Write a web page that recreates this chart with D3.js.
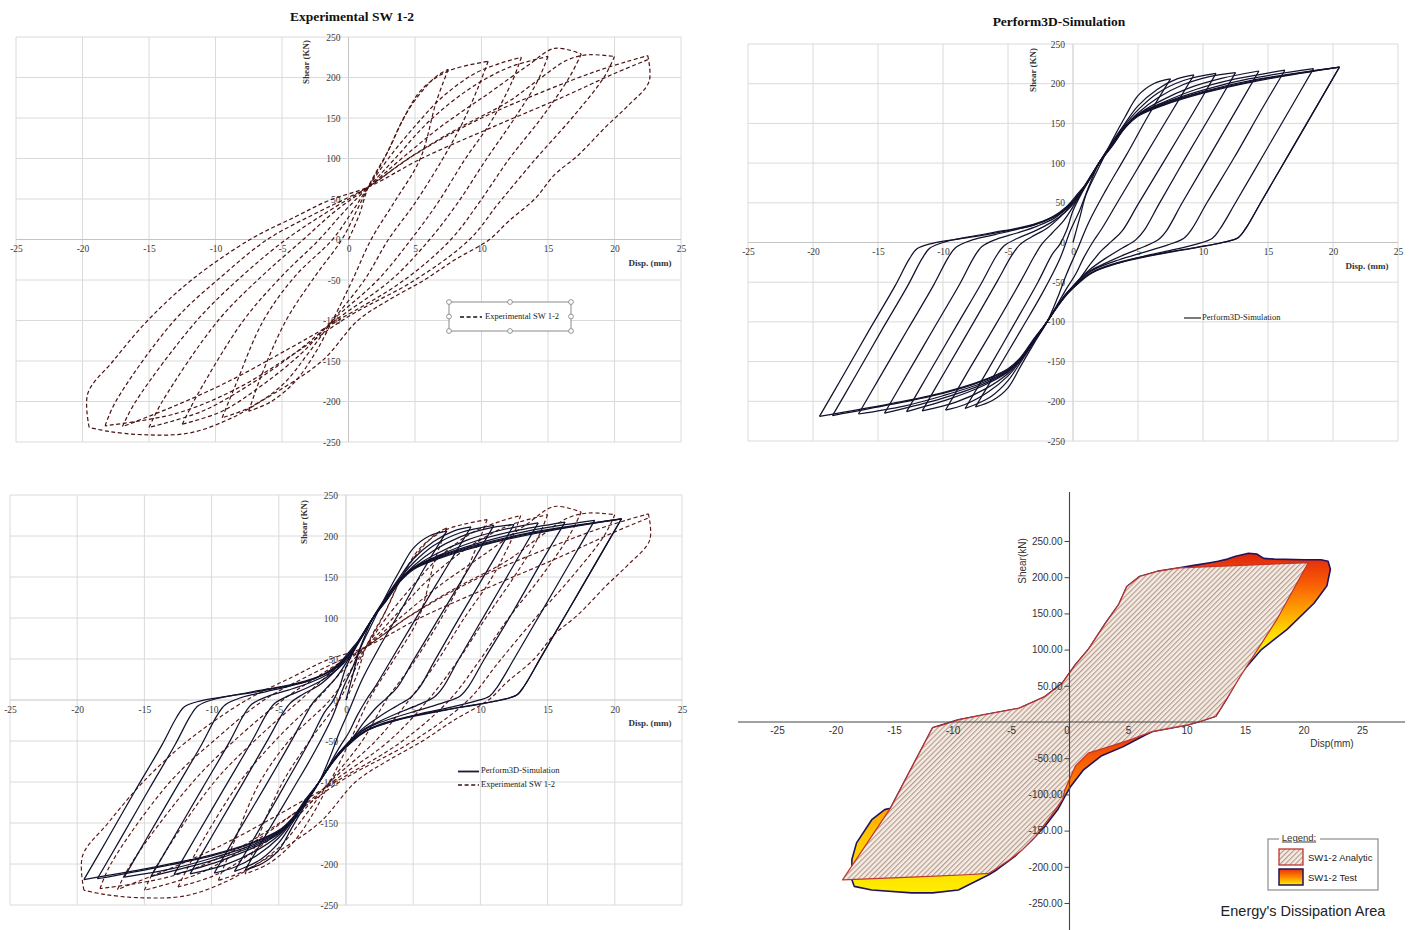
<!DOCTYPE html>
<html>
<head>
<meta charset="utf-8">
<script src="https://cdn.jsdelivr.net/npm/d3@7"></script>
<style>
  body { margin: 0; background: #fff; }
  svg { display: block; }
</style>
</head>
<body>
<svg id="chart" width="1418" height="930"></svg>
<script>
// ---------- axis ticks ----------
const dispTicks = [-25, -20, -15, -10, -5, 0, 5, 10, 15, 20, 25];
const shearTicks = [-250, -200, -150, -100, -50, 0, 50, 100, 150, 200, 250];
const shearTicksFmt = [250, 200, 150, 100, 50, -50, -100, -150, -200, -250];

// ---------- Perform3D simulation: loading / unloading branches (disp mm, shear kN) ----------
const simBranches = [
  [[0,0],[0.5,30],[1,60],[2,95],[3,128],[4,158],[5,185],[6.2,200],[7.5,206]],
  [[7.5,206],[5.8,160],[4.1,110],[2.5,65],[1.2,25],[0.3,-10],[-0.5,-40],[-1.2,-70],[-2,-100],[-3,-127],[-4,-155],[-5,-183],[-6.2,-199],[-7.5,-207]],
  [[-7.5,-207],[-5.8,-160],[-4,-110],[-2.4,-65],[-1,-20],[-0.2,15],[0.5,40],[1.2,70],[2,100],[3,126],[4,150],[5,172],[6.5,193],[8,206],[9.3,211]],
  [[9.3,211],[7.6,165],[5.4,105],[3.4,50],[2.2,17],[1.5,0],[0.8,-20],[0.2,-40],[-0.5,-58],[-1.2,-78],[-2,-100],[-3,-125],[-4,-150],[-5,-174],[-6.3,-194],[-7.5,-204],[-8.3,-209]],
  [[-8.3,-209],[-6.6,-162],[-4.6,-105],[-2.7,-50],[-1.6,-15],[-1,-2],[-0.5,15],[0,40],[0.6,60],[1.3,80],[2,100],[3,125],[4,148],[5,167],[6.5,188],[8.5,204],[11,213]],
  [[11,213],[9.3,165],[7.1,105],[5,48],[3.8,15],[3,2],[2.2,-10],[1.3,-28],[0.5,-46],[-0.4,-62],[-1.2,-80],[-2,-100],[-3,-124],[-4,-148],[-5,-168],[-6.5,-188],[-8.3,-204],[-9.8,-211]],
  [[-9.8,-211],[-8.1,-163],[-6,-105],[-4,-48],[-3,-18],[-2.4,-2],[-1.6,12],[-0.7,28],[0,45],[0.6,62],[1.3,82],[2,100],[3,124],[4,146],[5,163],[6.5,182],[8.5,199],[10.5,209],[12.5,214]],
  [[12.5,214],[10.8,166],[8.6,105],[6.6,48],[5.5,16],[4.8,3],[3.8,-7],[2.5,-20],[1.3,-34],[0.5,-46],[-0.4,-63],[-1.2,-80],[-2,-100],[-3,-124],[-4,-147],[-5,-165],[-6.7,-184],[-9,-201],[-11.6,-212]],
  [[-11.6,-212],[-9.9,-164],[-7.8,-105],[-5.8,-48],[-4.7,-16],[-4.1,-3],[-3.2,7],[-2,18],[-1,32],[-0.2,46],[0.6,64],[1.3,82],[2,100],[3,123],[4,145],[5,161],[6.7,178],[9,195],[11.5,207],[14.3,216]],
  [[14.3,216],[12.6,168],[10.4,106],[8.4,50],[7.2,15],[6.6,4],[5.5,-5],[4,-15],[2.5,-26],[1.3,-36],[0.5,-48],[-0.4,-64],[-1.2,-81],[-2,-100],[-3,-124],[-4,-147],[-5,-163],[-7,-181],[-9.5,-197],[-12.8,-213]],
  [[-12.8,-213],[-11.1,-165],[-9,-106],[-7,-50],[-5.9,-17],[-5.3,-4],[-4.3,5],[-3,14],[-1.7,25],[-0.6,38],[0.2,52],[1.2,78],[2,100],[3,123],[4,146],[5,161],[7,177],[9.5,193],[12.5,206],[16.3,217]],
  [[16.3,217],[14.6,170],[12.4,107],[10.3,50],[9.1,16],[8.5,5],[7.3,-3],[5.5,-12],[3.5,-22],[2,-31],[1,-40],[0.2,-53],[-0.6,-66],[-1.2,-80],[-2,-100],[-3,-123],[-4,-146],[-5,-162],[-7,-179],[-10,-196],[-14.5,-215]],
  [[-14.5,-215],[-12.8,-167],[-10.7,-108],[-8.7,-52],[-7.6,-18],[-7,-5],[-5.9,4],[-4.3,12],[-2.7,21],[-1.4,31],[-0.4,44],[0.4,58],[1.2,78],[2,100],[3,123],[4,146],[5,161],[7,176],[10,192],[13.5,206],[18.5,219]],
  [[18.5,219],[16.8,171],[14.6,109],[12.5,50],[11.3,17],[10.7,5],[9.5,-2],[7.5,-10],[5.5,-17],[3.5,-26],[2,-34],[1,-42],[0.2,-54],[-0.6,-66],[-1.2,-80],[-2,-100],[-3,-123],[-4,-146],[-5,-161],[-7,-177],[-10,-193],[-13,-206],[-16.5,-216]],
  [[-16.5,-216],[-14.8,-168],[-12.7,-109],[-10.7,-53],[-9.6,-19],[-9,-6],[-7.8,3],[-6,10],[-4.2,17],[-2.5,25],[-1.2,35],[-0.3,47],[0.5,62],[1.2,78],[2,100],[3,122],[4,145],[5,160],[7,175],[10,190],[14,205],[20.5,221]],
  [[20.5,221],[18.8,173],[16.6,111],[14.5,52],[13.3,18],[12.7,6],[11.5,0],[9.5,-6],[7,-13],[4.5,-21],[2.5,-30],[1.2,-40],[0.3,-53],[-0.6,-67],[-1.2,-80],[-2,-100],[-3,-122],[-4,-145],[-5,-160],[-7,-175],[-10,-190],[-14,-204],[-18.5,-218]],
  [[-18.5,-218],[-16.8,-170],[-14.7,-110],[-12.7,-54],[-11.6,-20],[-11,-7],[-9.8,1],[-8,7],[-6,13],[-4,19],[-2.3,27],[-1,37],[-0.1,50],[0.6,64],[1.2,78],[2,100],[3,122],[4,145],[5,160],[7,174],[10,189],[14,204],[20.5,221]],
  [[20.5,221],[18.8,173],[16.6,111],[14.5,52],[13.3,18],[12.7,6],[11.8,1],[10,-5],[7.5,-12],[5,-20],[3,-28],[1.5,-38],[0.5,-50],[-0.4,-64],[-1.2,-80],[-2,-100],[-3,-121],[-4,-144],[-5,-159],[-7,-174],[-10,-189],[-14,-203],[-19.5,-219]],
  [[-19.5,-219],[-17.8,-171],[-15.7,-111],[-13.7,-55],[-12.6,-21],[-12,-8],[-10.8,-1],[-9,4],[-7,9],[-5,15],[-3,22],[-1.6,32],[-0.5,45],[0.4,62],[1.2,78],[2,100],[3,121],[4,144],[5,159],[7,173],[10,188],[14,203],[20.5,221]]
];

// ---------- Experimental SW 1-2: loading / unloading branches ----------
const expBranches = [
  [[0,0],[0.8,30],[1.5,65],[3,110],[4.5,160],[6.5,200],[7.5,210]],
  [[7.5,210],[6.6,170],[5.4,100],[3.4,45],[1.7,0],[0.3,-50],[-1.2,-100],[-2.5,-140],[-4,-175],[-5.8,-200],[-7.5,-212]],
  [[-7.5,-212],[-6.6,-170],[-4.7,-100],[-2.5,-45],[-0.5,0],[0.6,35],[1.5,65],[2.7,100],[4,145],[5.5,185],[7.5,208],[10.5,220]],
  [[10.5,220],[9.8,190],[8.6,145],[7.1,100],[5,45],[3,0],[1.2,-50],[-1.2,-100],[-3,-140],[-5,-180],[-7.5,-208],[-9.5,-220]],
  [[-9.5,-220],[-8.5,-180],[-6.4,-100],[-4,-45],[-1.2,0],[0.3,35],[1.5,65],[3,100],[5,140],[7,175],[9.5,205],[11.5,218],[13,225]],
  [[13,225],[12.3,195],[10.7,145],[8.8,100],[6.7,45],[4.7,0],[2.2,-50],[-1.2,-100],[-3.5,-140],[-6.5,-180],[-9.5,-212],[-12.5,-228]],
  [[-12.5,-228],[-11.3,-190],[-7.9,-100],[-5,-45],[-2.2,0],[-0.3,35],[1.5,65],[3.5,100],[6,145],[9,185],[12,212],[15,226]],
  [[15,226],[14.2,195],[12.5,150],[10.4,100],[8.2,45],[6.1,0],[3.2,-50],[-1,-100],[-4,-140],[-7.5,-180],[-11,-212],[-15,-232]],
  [[-15,-232],[-14,-200],[-9.8,-100],[-6.5,-45],[-3.4,0],[-1,35],[1.5,65],[4,100],[7,140],[10.5,180],[13.5,215],[15.5,236],[17.5,229]],
  [[17.5,229],[16.6,200],[14.5,150],[12.1,100],[9.8,45],[7.7,0],[4.2,-50],[-0.8,-100],[-4.5,-135],[-9,-175],[-13,-205],[-17,-231]],
  [[-17,-231],[-16,-200],[-11.4,-100],[-8,-45],[-4.7,0],[-1.5,35],[1.5,65],[4.5,100],[8,135],[12,170],[14.5,200],[16.5,222],[18,228],[20,226]],
  [[20,226],[19.2,200],[16.8,150],[14.1,100],[11.3,45],[9.1,0],[5,-50],[0,-95],[-4,-140],[-8.5,-185],[-13,-215],[-18.3,-230]],
  [[-18.3,-230],[-17.5,-200],[-13.1,-100],[-9.5,-45],[-6.1,0],[-2.5,32],[0,52],[1.5,65],[5,105],[10,150],[15,185],[18.5,207],[21,220],[22.5,227]],
  [[22.5,227],[22.6,195],[21,165],[19.4,140],[17.2,103],[15.5,80],[14,50],[12,22],[10.6,0],[8,-25],[5.7,-50],[3,-75],[0.7,-100],[-2,-150],[-6.6,-200],[-9,-222],[-12,-239],[-15.5,-241],[-18,-237],[-19.5,-232]],
  [[-19.5,-232],[-19.6,-190],[-17.7,-150],[-15.1,-100],[-11.8,-50],[-7.4,0],[-4,28],[-1.5,48],[1.5,65],[5.5,100],[11,140],[16,175],[20,205],[22.5,222]]
];

// ---------- energy dissipation outlines ----------
const analyticLoop = [[-19.4,-218],[-15.3,-119],[-11.7,-8],[-11,-5],[-9.5,3],[-7.3,10],[-4.3,19],[-2.1,35],[-0.6,54],[0.5,79],[1.6,100],[3.1,137],[4.2,162],[4.9,187],[6,201],[7.5,208],[9.4,213],[20.4,220],[17.7,141],[14.6,63],[13.4,31],[12.5,8],[11.2,1],[10.1,-4],[7.1,-13],[5.3,-24],[3.4,-34],[1.6,-43],[0.5,-61],[-0.4,-94],[-0.6,-107],[-1.6,-130],[-2.9,-158],[-4,-176],[-5.1,-190],[-6.2,-202],[-6.9,-209],[-8.8,-211],[-13,-214]];
const testLoop = [[-15.3,-119],[-11.7,-8],[-9.5,3],[-7.3,10],[-4.3,19],[-2.1,35],[-0.6,54],[0.5,79],[1.6,100],[3.1,137],[4.2,162],[4.9,187],[6,201],[7.5,208],[9.4,213],[10.5,216],[12,220],[12.7,222],[13.5,225],[14.2,229],[15.3,233],[16,232],[16.6,226],[17.5,225],[20.1,224],[21.5,224],[22.1,222],[22.3,211],[22,188],[20.9,164],[18.6,128],[16.4,100],[14.7,68],[13.4,31],[12.5,8],[11.2,1],[10.1,-4],[7.1,-13],[6.6,-17],[4.6,-34],[2.7,-47],[1.2,-66],[0.1,-89],[-0.4,-103],[-1,-121],[-2.1,-144],[-3.2,-163],[-4.7,-186],[-6.2,-204],[-6.9,-211],[-9.5,-232],[-11.7,-236],[-13.5,-236],[-16.9,-232],[-18.4,-227],[-18.6,-218],[-18.6,-190],[-18.2,-167],[-16.9,-135],[-15.8,-121]];

// ---------- drawing ----------
const svg = d3.select("#chart");
const defs = svg.append("defs");
const SERIF = "'Liberation Serif', 'DejaVu Serif', serif";
const SANS = "'Liberation Sans', Arial, sans-serif";

const SIM_COLOR = "#12122e";
const EXP_COLOR = "#4a1111";

// plain ASCII hyphen for negative tick values
const intFmt = d => String(d);
const fixFmt = d => d.toFixed(2);

function excelPanel(cfg) {
  const g = svg.append("g");
  const x = d3.scaleLinear().domain([-25, 25]).range([cfg.left, cfg.right]);
  const y = d3.scaleLinear().domain([-250, 250]).range([cfg.bottom, cfg.top]);

  // gridlines
  g.append("g").selectAll("line").data(dispTicks).join("line")
    .attr("x1", d => x(d)).attr("x2", d => x(d))
    .attr("y1", y(250)).attr("y2", y(-250))
    .attr("stroke", d => d === 0 ? "#c4c4c4" : "#dadada").attr("stroke-width", 1);
  g.append("g").selectAll("line").data(shearTicks).join("line")
    .attr("x1", x(-25)).attr("x2", x(25))
    .attr("y1", d => y(d)).attr("y2", d => y(d))
    .attr("stroke", d => d === 0 ? "#c4c4c4" : "#dadada").attr("stroke-width", 1);

  // tick labels through d3 axes
  const xAxis = g.append("g").attr("transform", `translate(0,${y(0)})`)
    .call(d3.axisBottom(x).tickValues(dispTicks).tickSize(0).tickPadding(6).tickFormat(intFmt));
  const yAxis = g.append("g").attr("transform", `translate(${x(0)},0)`)
    .call(d3.axisLeft(y).tickValues(shearTicks).tickSize(0).tickPadding(8).tickFormat(intFmt));
  [xAxis, yAxis].forEach(a => {
    a.select(".domain").remove();
    a.selectAll("text").attr("font-family", SERIF).attr("font-size", 9.5).attr("fill", "#3a3a3a");
  });

  if (cfg.title) {
    svg.append("text").attr("x", cfg.title.x).attr("y", cfg.title.y)
      .attr("text-anchor", "middle").attr("font-family", SERIF).attr("font-weight", "bold")
      .attr("font-size", 13.5).attr("fill", "#111").text(cfg.title.text);
  }
  svg.append("text")
    .attr("transform", `translate(${cfg.yLabel[0]},${cfg.yLabel[1]}) rotate(-90)`)
    .attr("text-anchor", "middle").attr("dominant-baseline", "middle")
    .attr("font-family", SERIF).attr("font-weight", "bold").attr("font-size", 9)
    .attr("fill", "#333").text("Shear (KN)");
  svg.append("text").attr("x", cfg.xLabel[0]).attr("y", cfg.xLabel[1])
    .attr("text-anchor", "middle").attr("dominant-baseline", "middle")
    .attr("font-family", SERIF).attr("font-weight", "bold").attr("font-size", 9)
    .attr("fill", "#333").text("Disp. (mm)");
  return { g, x, y };
}

function drawBranches(p, branches, style) {
  const line = d3.line().x(d => p.x(d[0])).y(d => p.y(d[1]))
    .curve(d3.curveCatmullRom.alpha(0.5));
  p.g.append("g").selectAll("path").data(branches).join("path")
    .attr("d", line).attr("fill", "none")
    .attr("stroke", style.color).attr("stroke-width", style.width)
    .attr("stroke-dasharray", style.dash || null)
    .attr("stroke-linejoin", "round");
}

const simStyle = { color: SIM_COLOR, width: 1.25 };
const expStyle = { color: EXP_COLOR, width: 1.2, dash: "4,2.6" };

// Panel: Experimental SW 1-2
const p1 = excelPanel({
  left: 16, right: 681, top: 37, bottom: 442,
  title: { x: 352, y: 21, text: "Experimental SW 1-2" },
  yLabel: [307, 62], xLabel: [650, 264]
});
drawBranches(p1, expBranches, expStyle);
{
  const lg = svg.append("g");
  lg.append("rect").attr("x", 449).attr("y", 302).attr("width", 122).attr("height", 29)
    .attr("fill", "#fff").attr("stroke", "#8a8a8a").attr("stroke-width", 1);
  const hx = [449, 510, 571], hy = [302, 316.5, 331];
  const handles = [];
  hx.forEach(a => hy.forEach(b => { if (!(a === 510 && b === 316.5)) handles.push([a, b]); }));
  lg.selectAll("circle").data(handles).join("circle")
    .attr("cx", d => d[0]).attr("cy", d => d[1]).attr("r", 2.4)
    .attr("fill", "#fff").attr("stroke", "#8a8a8a").attr("stroke-width", 0.9);
  lg.append("line").attr("x1", 460).attr("x2", 482).attr("y1", 317).attr("y2", 317)
    .attr("stroke", "#111").attr("stroke-width", 1.6).attr("stroke-dasharray", "4,2.6");
  lg.append("text").attr("x", 485).attr("y", 317).attr("dominant-baseline", "middle")
    .attr("font-family", SERIF).attr("font-size", 8.5).attr("fill", "#222").text("Experimental SW 1-2");
}

// Panel: Perform3D-Simulation
const p2 = excelPanel({
  left: 748, right: 1398, top: 44, bottom: 441,
  title: { x: 1059, y: 26, text: "Perform3D-Simulation" },
  yLabel: [1034, 70], xLabel: [1367, 267]
});
drawBranches(p2, simBranches, simStyle);
{
  const lg = svg.append("g");
  lg.append("line").attr("x1", 1184).attr("x2", 1201).attr("y1", 318).attr("y2", 318)
    .attr("stroke", "#333").attr("stroke-width", 1.3);
  lg.append("text").attr("x", 1202).attr("y", 318).attr("dominant-baseline", "middle")
    .attr("font-family", SERIF).attr("font-size", 8.5).attr("fill", "#222").text("Perform3D-Simulation");
}

// Panel: overlay of both
const p3 = excelPanel({
  left: 10, right: 682, top: 495, bottom: 905,
  yLabel: [305, 522], xLabel: [650, 724]
});
drawBranches(p3, expBranches, { color: "#5a1515", width: 1.15, dash: "4,2.6" });
drawBranches(p3, simBranches, simStyle);
{
  const lg = svg.append("g");
  lg.append("line").attr("x1", 458).attr("x2", 479).attr("y1", 771.5).attr("y2", 771.5)
    .attr("stroke", "#1a1a3a").attr("stroke-width", 1.8);
  lg.append("text").attr("x", 481).attr("y", 771.5).attr("dominant-baseline", "middle")
    .attr("font-family", SERIF).attr("font-size", 8.5).attr("fill", "#222").text("Perform3D-Simulation");
  lg.append("line").attr("x1", 458).attr("x2", 479).attr("y1", 785).attr("y2", 785)
    .attr("stroke", "#3a1515").attr("stroke-width", 1.3).attr("stroke-dasharray", "4,2.6");
  lg.append("text").attr("x", 481).attr("y", 785).attr("dominant-baseline", "middle")
    .attr("font-family", SERIF).attr("font-size", 8.5).attr("fill", "#222").text("Experimental SW 1-2");
}

// Panel: Energy's Dissipation Area
{
  const x = d3.scaleLinear().domain([-25, 25]).range([777, 1362]);
  const y = d3.scaleLinear().domain([-250, 250]).range([903, 541]);
  const g = svg.append("g");

  // hatch pattern for the analytic loop
  const pat = defs.append("pattern").attr("id", "hatch").attr("patternUnits", "userSpaceOnUse")
    .attr("width", 3.6).attr("height", 3.6).attr("patternTransform", "rotate(45)");
  pat.append("rect").attr("width", 3.6).attr("height", 3.6).attr("fill", "#f4ece5");
  pat.append("line").attr("x1", 0.6).attr("x2", 0.6).attr("y1", 0).attr("y2", 3.6)
    .attr("stroke", "#b49888").attr("stroke-width", 1.1);

  // colour ramps for the test loop
  function ramp(id, y1, y2, stops) {
    const gr = defs.append("linearGradient").attr("id", id).attr("gradientUnits", "userSpaceOnUse")
      .attr("x1", 0).attr("x2", 0).attr("y1", y1).attr("y2", y2);
    stops.forEach(s => gr.append("stop").attr("offset", s[0]).attr("stop-color", s[1]));
  }
  ramp("rampUp", y(232), y(95), [[0, "#e0260b"], [0.28, "#f85806"], [0.55, "#ff9c00"], [0.8, "#ffdc00"], [1, "#fff400"]]);
  ramp("rampDown", y(-12), y(-238), [[0, "#ee3306"], [0.3, "#ff7800"], [0.62, "#ffc400"], [1, "#fff000"]]);
  ramp("rampKey", 869, 885, [[0, "#e8300a"], [0.5, "#ff8a00"], [1, "#fff000"]]);

  defs.append("clipPath").attr("id", "clipUp").append("rect")
    .attr("x", 700).attr("y", 480).attr("width", 718).attr("height", y(0) - 480);
  defs.append("clipPath").attr("id", "clipDown").append("rect")
    .attr("x", 700).attr("y", y(0)).attr("width", 718).attr("height", 930 - y(0));

  const area = d3.line().x(d => x(d[0])).y(d => y(d[1])).curve(d3.curveLinearClosed);

  g.append("path").datum(testLoop).attr("d", area).attr("fill", "url(#rampUp)").attr("clip-path", "url(#clipUp)");
  g.append("path").datum(testLoop).attr("d", area).attr("fill", "url(#rampDown)").attr("clip-path", "url(#clipDown)");
  g.append("path").datum(testLoop).attr("d", area).attr("fill", "none")
    .attr("stroke", "#21135e").attr("stroke-width", 1.6).attr("stroke-linejoin", "round");
  g.append("path").datum(analyticLoop).attr("d", area).attr("fill", "url(#hatch)")
    .attr("stroke", "#c2352a").attr("stroke-width", 1.2).attr("stroke-linejoin", "round");

  // axes
  g.append("line").attr("x1", 738).attr("x2", 1405).attr("y1", y(0)).attr("y2", y(0))
    .attr("stroke", "#444").attr("stroke-width", 1.1);
  g.append("line").attr("x1", x(0)).attr("x2", x(0)).attr("y1", 492).attr("y2", 930)
    .attr("stroke", "#444").attr("stroke-width", 1.1);

  const xa = g.append("g").attr("transform", `translate(0,${y(0)})`)
    .call(d3.axisBottom(x).tickValues(dispTicks).tickSize(0).tickPadding(5).tickFormat(intFmt));
  xa.select(".domain").remove();
  xa.selectAll("text").attr("font-family", SANS).attr("font-size", 10).attr("fill", "#333");
  xa.selectAll(".tick").filter(d => d === 0).select("text").attr("dx", -3);

  const ya = g.append("g").attr("transform", `translate(${x(0)},0)`)
    .call(d3.axisLeft(y).tickValues(shearTicksFmt).tickSize(5).tickPadding(2).tickFormat(fixFmt));
  ya.select(".domain").remove();
  ya.selectAll("line").attr("stroke", "#444");
  ya.selectAll("text").attr("font-family", SANS).attr("font-size", 10).attr("fill", "#333");

  svg.append("text").attr("transform", `translate(1023,561) rotate(-90)`)
    .attr("text-anchor", "middle").attr("dominant-baseline", "middle")
    .attr("font-family", SANS).attr("font-size", 10).attr("fill", "#333").text("Shear(kN)");
  svg.append("text").attr("x", 1332).attr("y", 744).attr("text-anchor", "middle")
    .attr("dominant-baseline", "middle").attr("font-family", SANS).attr("font-size", 10)
    .attr("fill", "#333").text("Disp(mm)");

  // legend
  const lg = svg.append("g");
  lg.append("rect").attr("x", 1268).attr("y", 839).attr("width", 110).attr("height", 51)
    .attr("fill", "#fff").attr("stroke", "#8c8c8c").attr("stroke-width", 1.2);
  lg.append("rect").attr("x", 1279).attr("y", 833).attr("width", 41).attr("height", 10).attr("fill", "#fff");
  lg.append("text").attr("x", 1299).attr("y", 838).attr("text-anchor", "middle")
    .attr("dominant-baseline", "middle").attr("font-family", SANS).attr("font-size", 9.5)
    .attr("fill", "#333").attr("text-decoration", "underline").text("Legend:");
  lg.append("rect").attr("x", 1279).attr("y", 849).attr("width", 24).attr("height", 16)
    .attr("fill", "url(#hatch)").attr("stroke", "#c2352a").attr("stroke-width", 1.3);
  lg.append("rect").attr("x", 1279).attr("y", 869).attr("width", 24).attr("height", 16)
    .attr("fill", "url(#rampKey)").attr("stroke", "#21135e").attr("stroke-width", 1.5);
  lg.append("text").attr("x", 1308).attr("y", 858).attr("dominant-baseline", "middle")
    .attr("font-family", SANS).attr("font-size", 9.5).attr("fill", "#222").text("SW1-2 Analytic");
  lg.append("text").attr("x", 1308).attr("y", 878).attr("dominant-baseline", "middle")
    .attr("font-family", SANS).attr("font-size", 9.5).attr("fill", "#222").text("SW1-2 Test");

  svg.append("text").attr("x", 1303).attr("y", 912).attr("text-anchor", "middle")
    .attr("dominant-baseline", "middle").attr("font-family", SANS).attr("font-size", 14.5)
    .attr("fill", "#222").text("Energy's Dissipation Area");
}
</script>
</body>
</html>
